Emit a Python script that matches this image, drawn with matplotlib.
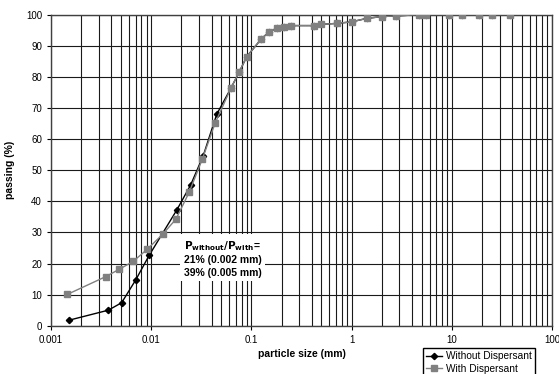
import matplotlib.pyplot as plt
from matplotlib.ticker import LogLocator, FixedLocator, NullFormatter

plt.rcParams['font.family'] = ['Liberation Sans', 'DejaVu Sans']

# tamanos de particula (mm) y porcentaje que pasa
size_without = [0.00152, 0.00373, 0.00507, 0.0070, 0.00957, 0.0180, 0.0248, 0.0331, 0.0451,
                0.0625, 0.0757, 0.0898, 0.1247, 0.150, 0.1815, 0.211, 0.248, 0.425, 0.495,
                0.71, 1.0, 1.41, 2.0, 2.77, 4.7, 5.5, 9.4, 12.6, 18.8, 25.1, 38.0]
pass_without = [1.8, 5.0, 7.4, 14.7, 22.7, 37.2, 45.3, 54.7, 68.0,
                76.4, 81.6, 86.5, 92.1, 94.5, 95.6, 96.1, 96.5, 96.5, 96.9,
                97.2, 97.7, 98.8, 99.4, 99.6, 100, 100, 100, 100, 100, 100, 100]

size_with = [0.00146, 0.00352, 0.00477, 0.00662, 0.00914, 0.0130, 0.0177, 0.0240, 0.0324,
             0.0434, 0.0625, 0.0757, 0.0898, 0.1247, 0.150, 0.1815, 0.211, 0.248, 0.425,
             0.495, 0.71, 1.0, 1.41, 2.0, 2.77, 4.7, 5.5, 9.4, 12.6, 18.8, 25.1, 38.0]
pass_with = [10.1, 15.8, 18.1, 20.7, 24.6, 29.4, 34.3, 43.0, 53.6,
             65.1, 76.4, 81.6, 86.5, 92.1, 94.5, 95.6, 96.1, 96.5, 96.5,
             96.9, 97.2, 97.7, 98.8, 99.4, 99.6, 100, 100, 100, 100, 100, 100, 100]

x_ticks = [0.001, 0.01, 0.1, 1, 10, 100]
x_labels = ['0.001', '0.01', '0.1', '1', '10', '100']

fig = plt.figure(figsize=(5.59, 3.74), dpi=100)
ax = fig.add_axes([0.0912, 0.129, 0.8963, 0.8317])

ax.set_xscale('log')
ax.set_xlim(0.001, 100)
ax.set_ylim(0, 100)

#grid mayor y menor en x, cada 10 en y
ax.xaxis.set_major_locator(FixedLocator(x_ticks))
ax.set_xticklabels(x_labels)
ax.xaxis.set_minor_locator(LogLocator(base=10, subs=range(2, 10), numticks=20))
ax.xaxis.set_minor_formatter(NullFormatter())
ax.set_yticks(range(0, 101, 10))
ax.grid(True, which='both', color='#1a1a1a', linewidth=0.8)
ax.set_axisbelow(True)

ax.plot(size_without, pass_without, color='black', linewidth=1.0, marker='D',
        markersize=3.2, label='Without Dispersant', zorder=3)
ax.plot(size_with, pass_with, color='#808080', linewidth=1.0, marker='s',
        markersize=4.0, label='With Dispersant', zorder=4)

ax.tick_params(axis='both', which='major', labelsize=7, length=3, width=0.8)
ax.tick_params(axis='x', which='minor', length=0)
for s in ax.spines.values():
    s.set_color('#404040')
    s.set_linewidth(1.0)

ax.set_xlabel('particle size (mm)', fontsize=7.5, fontweight='bold', labelpad=3)
ax.set_ylabel('passing (%)', fontsize=7.5, fontweight='bold', labelpad=8)

ax.text(0.0212, 27.8, '$\\mathbf{P_{without}/P_{with}}$=\n21% (0.002 mm)\n39% (0.005 mm)',
        fontsize=7.5, fontweight='bold', va='top', ha='left', multialignment='left',
        linespacing=1.3, bbox=dict(facecolor='white', edgecolor='none', pad=2.5), zorder=5)

fig.legend(loc='upper left', bbox_to_anchor=(0.757, 0.0695), borderaxespad=0,
           fontsize=7.3, frameon=True, fancybox=False, edgecolor='black', framealpha=1,
           handlelength=1.6, handletextpad=0.4, borderpad=0.3, labelspacing=0.25)

plt.savefig('out.png', dpi=100)
